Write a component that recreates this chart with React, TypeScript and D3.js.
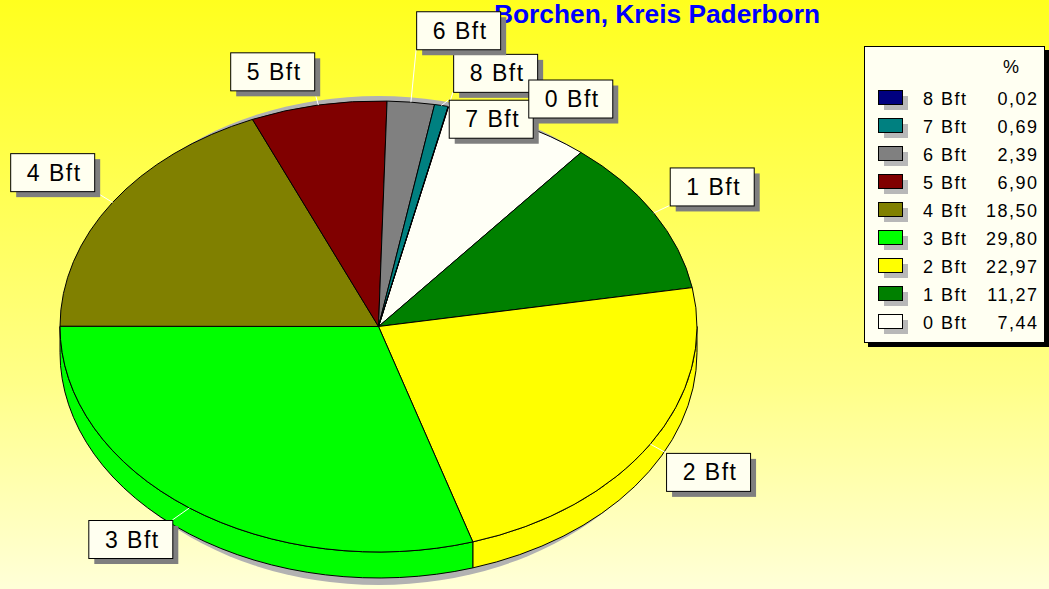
import React from "react";
import * as d3 from "d3";

const title = "Borchen, Kreis Paderborn";
const categories = ["0 Bft", "1 Bft", "2 Bft", "3 Bft", "4 Bft", "5 Bft", "6 Bft", "7 Bft", "8 Bft"];
const percentages = [7.44, 11.27, 22.97, 29.8, 18.5, 6.9, 2.39, 0.69, 0.02];
const sliceColors = ["#FFFFF6", "#008000", "#FFFF00", "#00FF00", "#808000", "#800000", "#808080", "#008080", "#000080"];
const legendHeader = "%";

// collision-avoidance nudges for crowded labels (layout only)
const labelNudge: Record<string, [number, number]> = {
  "6 Bft": [3, -38],
  "7 Bft": [3, 47],
  "0 Bft": [0, 7],
  "3 Bft": [-4, 0],
  "4 Bft": [0, -3],
  "1 Bft": [-3, 0],
  "2 Bft": [-3, 1],
};

const W = 1049;
const H = 589;
const FONT = "'Liberation Sans', Arial, sans-serif";

export default function App() {
  const cx = 378.5;
  const cy = 326.5;
  const rx = 318.5;
  const ry = 225.5;
  const depth = 26;
  const t0 = (12.7 * Math.PI) / 180;

  const pie = d3
    .pie<number>()
    .sort(null)
    .value((d) => d)
    .startAngle(t0)
    .endAngle(t0 + 2 * Math.PI);
  const arcs = pie(percentages);

  const pt = (t: number, dy = 0): [number, number] => [cx + rx * Math.sin(t), cy - ry * Math.cos(t) + dy];
  const f = (p: [number, number]) => `${p[0].toFixed(2)},${p[1].toFixed(2)}`;

  const topPath = (a: number, b: number) => {
    const large = b - a > Math.PI ? 1 : 0;
    return `M${cx},${cy}L${f(pt(a))}A${rx},${ry} 0 ${large} 1 ${f(pt(b))}Z`;
  };
  const sidePath = (a: number, b: number) => {
    return `M${f(pt(a))}A${rx},${ry} 0 0 1 ${f(pt(b))}L${f(pt(b, depth))}A${rx},${ry} 0 0 0 ${f(pt(a, depth))}Z`;
  };

  const sides = arcs
    .map((d, i) => {
      const a = Math.max(d.startAngle, Math.PI / 2);
      const b = Math.min(d.endAngle, (3 * Math.PI) / 2);
      return a < b ? { i, path: sidePath(a, b) } : null;
    })
    .filter((x) => x !== null) as { i: number; path: string }[];

  const BW = 84;
  const BH = 38;
  const labels = arcs.map((d, i) => {
    const mid = (d.startAngle + d.endAngle) / 2;
    const s = Math.sin(mid);
    const c = Math.cos(mid);
    const edge = pt(mid);
    const corner: [number, number] = [edge[0] + s * 22, edge[1] - c * 15];
    let x = s >= 0 ? corner[0] : corner[0] - BW;
    let y = c >= 0 ? corner[1] - BH : corner[1];
    const n = labelNudge[categories[i]];
    if (n) {
      x += n[0];
      y += n[1];
    }
    const corners: [number, number][] = [
      [x, y],
      [x + BW, y],
      [x, y + BH],
      [x + BW, y + BH],
    ];
    let best = corners[0];
    let bd = Infinity;
    for (const k of corners) {
      const dd = (k[0] - edge[0]) ** 2 + (k[1] - edge[1]) ** 2;
      if (dd < bd) {
        bd = dd;
        best = k;
      }
    }
    return { i, x, y, edge, lead: best };
  });
  const labelDrawOrder = [...labels].reverse();

  const fmt = d3.format(".2f");
  const legendIdx = d3.range(categories.length).reverse();

  return (
    <svg
      width={W}
      height={H}
      style={{ position: "absolute", left: 0, top: 0, display: "block" }}
      fontFamily={FONT}
    >
      <defs>
        <linearGradient id="bg" x1="0" y1="0" x2="0" y2="1">
          <stop offset="0" stopColor="#FFFF1E" />
          <stop offset="0.65" stopColor="#FFFF88" />
          <stop offset="1" stopColor="#FFFFD8" />
        </linearGradient>
      </defs>
      <rect x={0} y={0} width={W} height={H} fill="url(#bg)" />

      {/* pie shadow */}
      <ellipse cx={cx} cy={cy + 14} rx={rx - 2} ry={ry + 19} fill="#b2b2b2" />

      {/* side walls */}
      {sides.map((s) => (
        <path key={"s" + s.i} d={s.path} fill={sliceColors[s.i]} stroke="#000" strokeWidth={1} />
      ))}

      {/* top faces */}
      {arcs.map((d, i) => (
        <path key={"t" + i} d={topPath(d.startAngle, d.endAngle)} fill={sliceColors[i]} stroke="#000" strokeWidth={1} strokeLinejoin="round" />
      ))}

      {/* title */}
      <text x={494} y={23} fontSize={25} fontWeight="bold" fill="#0000FF" textLength={326} lengthAdjust="spacingAndGlyphs">
        {title}
      </text>

      {/* leader lines */}
      {labels.map((l) => (
        <line key={"l" + l.i} x1={l.edge[0]} y1={l.edge[1]} x2={l.lead[0]} y2={l.lead[1]} stroke="#fff" strokeWidth={1} />
      ))}

      {/* label boxes */}
      {labelDrawOrder.map((l) => (
        <g key={"b" + l.i}>
          <rect x={l.x + 6} y={l.y + 6} width={BW} height={BH} fill="#7f7f7f" />
          <rect x={l.x + 0.5} y={l.y + 0.5} width={BW} height={BH} fill="#FFFFF0" stroke="#000" strokeWidth={1} />
          <text x={l.x + BW / 2 + 2} y={l.y + BH / 2 + 8.5} fontSize={23} textAnchor="middle" letterSpacing={1.5} fill="#000">
            {categories[l.i]}
          </text>
        </g>
      ))}

      {/* legend */}
      <g>
        <rect x={868} y={50} width={181} height={297} fill="#000" />
        <rect x={864.5} y={46.5} width={180} height={296} fill="#FFFFF2" stroke="#000" strokeWidth={1} />
        <text x={1011} y={73} fontSize={18} textAnchor="middle" fill="#000">
          {legendHeader}
        </text>
        {legendIdx.map((idx, r) => {
          const yb = 105 + r * 28;
          return (
            <g key={"lg" + idx}>
              <rect x={884} y={yb - 9} width={24} height={14} fill="#b8b8b8" />
              <rect x={878.5} y={yb - 14.5} width={24} height={14} fill={sliceColors[idx]} stroke="#000" strokeWidth={1} />
              <text x={923} y={yb} fontSize={18} letterSpacing={1.5} fill="#000">
                {categories[idx]}
              </text>
              <text x={1038.5} y={yb} fontSize={18} letterSpacing={1.5} textAnchor="end" fill="#000">
                {fmt(percentages[idx]).replace(".", ",")}
              </text>
            </g>
          );
        })}
      </g>
    </svg>
  );
}
